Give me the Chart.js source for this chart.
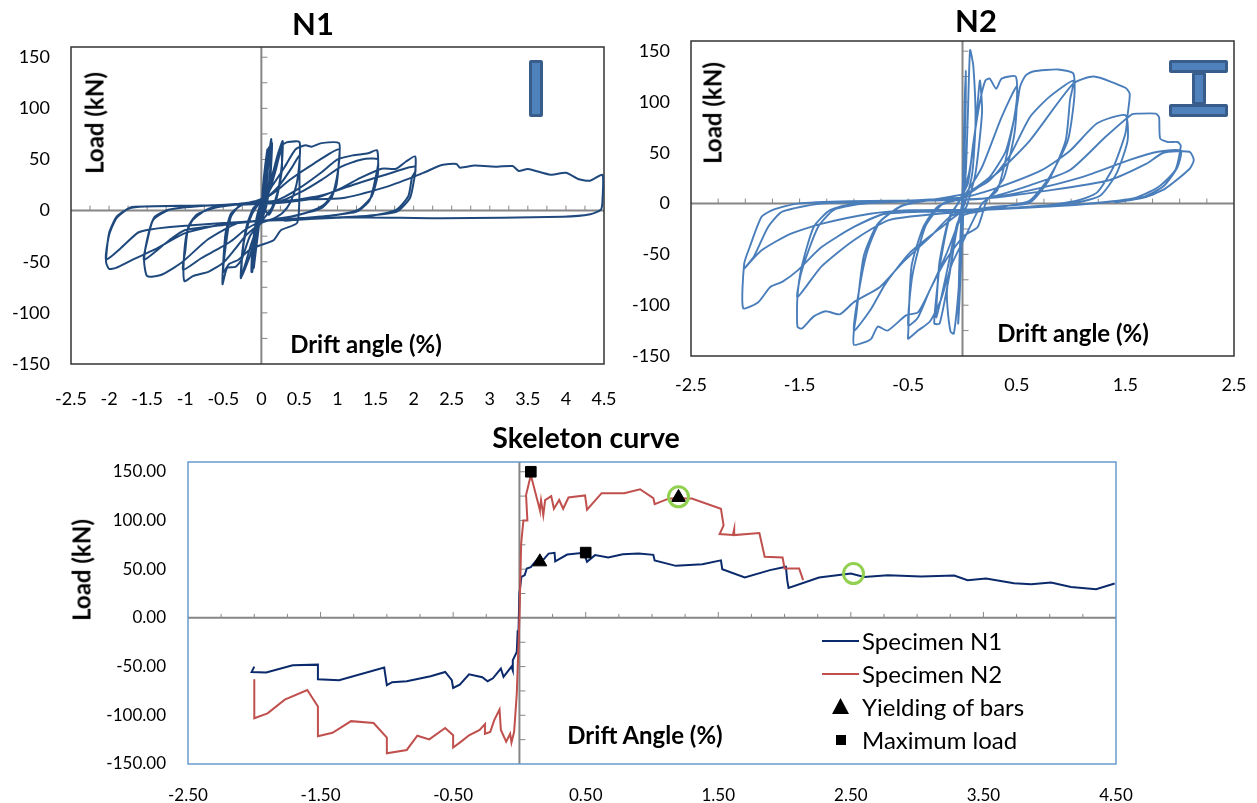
<!DOCTYPE html>
<html>
<head>
<meta charset="utf-8">
<title>Hysteresis and skeleton curves</title>
<script src="https://cdn.jsdelivr.net/npm/chart.js@4/dist/chart.umd.min.js"></script>
<style>
  html, body { margin: 0; background: #fff; }
  body { position: relative; width: 1257px; height: 803px; overflow: hidden; font-family: Lato, sans-serif; color: #000; }
  canvas { position: absolute; }
  .label { position: absolute; white-space: nowrap; transform: translate(-50%, -50%); font-weight: 700; }
  .title { font-size: 31px; }
  .inner { font-size: 24px; }
  .rot { transform: translate(-50%, -50%) rotate(-90deg); }
  .shape { position: absolute; box-sizing: border-box; background: #4f81bd; border: 3px solid #385d8a; border-radius: 2px; }
  .legend-text { position: absolute; left: 862px; font-size: 24px; line-height: 26px; white-space: nowrap; }
  .legend-line { position: absolute; left: 822px; width: 37px; height: 2px; }
</style>
</head>
<body>

<canvas id="chartN1" width="625" height="410" style="left:0;top:0"></canvas>
<canvas id="chartN2" width="627" height="410" style="left:630px;top:0"></canvas>
<canvas id="chartSkeleton" width="1257" height="393" style="left:0;top:410px"></canvas>

<div class="label title" style="left:313px;top:23px">N1</div>
<div class="label title" style="left:976px;top:20px">N2</div>
<div class="label title" style="left:586px;top:437px;font-size:28.5px">Skeleton curve</div>

<div class="label inner rot" style="left:94px;top:123px">Load (kN)</div>
<div class="label inner rot" style="left:712px;top:113px">Load (kN)</div>
<div class="label inner rot" style="left:81px;top:570px">Load (kN)</div>
<div class="label inner" style="left:366px;top:343px">Drift angle (%)</div>
<div class="label inner" style="left:1073px;top:332px">Drift angle (%)</div>
<div class="label inner" style="left:645px;top:734px">Drift Angle (%)</div>

<div class="shape" style="left:529px;top:60px;width:14px;height:57px"></div>
<div class="shape" style="left:1192px;top:72px;width:14px;height:33px"></div>
<div class="shape" style="left:1169px;top:60px;width:59px;height:13px"></div>
<div class="shape" style="left:1169px;top:104px;width:59px;height:13px"></div>

<div class="legend-line" style="top:640px;background:#0b2a6b"></div>
<div class="legend-line" style="top:673px;background:#c0504d"></div>
<svg style="position:absolute;left:832px;top:698px" width="17" height="17"><polygon points="8.5,0 17,16 0,16" fill="#000"/></svg>
<div style="position:absolute;left:836px;top:735px;width:10px;height:10px;background:#000"></div>
<div class="legend-text" style="top:628px">Specimen N1</div>
<div class="legend-text" style="top:661px">Specimen N2</div>
<div class="legend-text" style="top:694px">Yielding of bars</div>
<div class="legend-text" style="top:727px">Maximum load</div>

<script>
{
  'use strict';

  // tick values
  const loadTicks = [-150, -100, -50, 0, 50, 100, 150];
  const loadMinor = [-125, -100, -75, -50, -25, 25, 50, 75, 100, 125, 150];
  const n1DriftTicks = [-2.5, -2, -1.5, -1, -0.5, 0, 0.5, 1, 1.5, 2, 2.5, 3, 3.5, 4, 4.5];
  const n1DriftMinor = [-2.25, -2, -1.75, -1.5, -1.25, -1, -0.75, -0.5, -0.25, 0.25, 0.5, 0.75, 1, 1.25, 1.5, 1.75, 2, 2.25, 2.5, 2.75, 3, 3.25, 3.5, 3.75, 4, 4.25];
  const n2DriftTicks = [-2.5, -1.5, -0.5, 0.5, 1.5, 2.5];
  const n2DriftMinor = [-2.25, -2, -1.75, -1.5, -1.25, -1, -0.75, -0.5, -0.25, 0.25, 0.5, 0.75, 1, 1.25, 1.5, 1.75, 2, 2.25];
  const skeletonDriftTicks = [-2.5, -1.5, -0.5, 0.5, 1.5, 2.5, 3.5, 4.5];
  const skeletonDriftMinor = [-2.25, -2, -1.75, -1.5, -1.25, -1, -0.75, -0.5, -0.25, 0.25, 0.5, 0.75, 1, 1.25, 1.5, 1.75, 2, 2.25, 2.5, 2.75, 3, 3.25, 3.5, 3.75, 4, 4.25];

  // N1 hysteresis, [drift %, load kN]
  const n1Cycle010 = [[0,0],[.02,22],[.05,44],[.08,60],[.07,38],[.04,14],[.01,1],[-.02,-9],[-.05,-26],[-.08,-44],[-.1,-56],[-.09,-34],[-.05,-11],[-.01,3],[.03,20],[.07,44],[.1,62],[.08,34],[.04,8],[0,-4],[-.04,-18],[-.09,-42],[-.12,-60]];
  const n1Cycle015 = [[-.11,-36],[-.06,-8],[-.01,5],[.04,22],[.09,50],[.13,70],[.12,44],[.08,16],[.03,-2],[-.03,-14],[-.08,-32],[-.13,-60],[-.12,-38],[-.07,-10],[-.02,5],[.04,18],[.09,42],[.14,66],[.12,34],[.07,6],[.01,-8]];
  const n1Cycle025 = [[-.06,-20],[-.14,-42],[-.21,-56],[-.26,-64],[-.25,-42],[-.2,-20],[-.12,-3],[-.03,7],[.06,15],[.14,34],[.22,56],[.28,68],[.27,46],[.22,20],[.14,3],[.05,-6],[-.04,-15],[-.13,-32],[-.21,-52],[-.27,-66],[-.25,-40],[-.19,-14],[-.1,3],[0,8],[.1,18],[.19,40],[.26,60],[.27,40],[.2,12],[.1,-4]];
  const n1Cycle050 = [[0,9],[.08,20],[.18,42],[.27,64],[.35,67],[.5,67],[.5,48],[.46,25],[.38,8],[.28,-2],[.15,-8],[0,-12],[-.15,-25],[-.26,-48],[-.34,-55],[-.45,-56],[-.51,-72],[-.5,-50],[-.47,-22],[-.4,-3],[-.26,5.5],[-.05,10],[.1,15],[.25,26],[.4,42],[.5,54],[.5,40],[.5,15],[.47,-12],[.26,-19],[.16,-29],[0,-33.5],[-.15,-38],[-.3,-48],[-.42,-52],[-.5,-60]];
  const n1Cycle100 = [[-.46,-30],[-.4,-6],[-.28,5],[0,9],[.15,25],[.3,42],[.45,60],[.58,64],[.66,62.5],[.79,66],[1.02,66],[1.02,50],[.98,23],[.84,7],[.69,.6],[.45,-5],[.2,-8],[0,-12],[-.2,-24],[-.35,-38],[-.5,-51],[-.69,-59.6],[-.9,-64],[-1.01,-69],[-1.02,-50],[-.98,-22],[-.9,-9],[-.69,2],[-.32,6.5],[0,10],[.21,20],[.37,30],[.69,46],[1.02,60],[1,36],[.93,14],[.8,3],[.6,-2],[.3,-7],[0,-11],[-.2,-18],[-.4,-30],[-.58,-38],[-.79,-46.6],[-1.03,-58]];
  const n1Cycle150 = [[-1,-40],[-.96,-16],[-.85,-4],[-.6,3],[-.2,7],[.2,10],[.5,22],[.8,38],[1,50],[1.2,54],[1.4,56],[1.52,59],[1.53,36],[1.45,14],[1.27,.6],[1,-4],[.6,-7],[.2,-9],[-.3,-12],[-.7,-28],[-1.05,-51],[-1.32,-63],[-1.5,-64],[-1.54,-48],[-1.48,-22],[-1.4,-6],[-1.21,1],[-.79,4.5],[-.3,6],[.2,8],[.53,18.5],[.79,30],[1.05,43],[1.32,50],[1.53,50],[1.5,32],[1.42,10],[1.25,-1],[.9,-5],[.4,-8],[0,-10],[-.5,-14],[-1,-19],[-1.21,-29],[-1.54,-48]];
  const n1Cycle200 = [[-1.5,-30],[-1.42,-9],[-1.2,1],[-.7,5],[-.2,6],[.3,8],[.7,12],[1.05,22],[1.3,32],[1.58,41],[1.77,41],[1.9,48],[2.02,53],[2.02,38],[1.98,33],[1.93,14],[1.77,.6],[1.45,-5],[1,-7],[.4,-9],[-.4,-12],[-1,-22],[-1.4,-38],[-1.69,-48],[-1.91,-56],[-2,-57],[-2.04,-50],[-2,-22],[-1.9,-6],[-1.74,2],[-1.53,4],[-.8,5],[0,7],[.4,10],[.8,15],[1.2,25],[1.63,35],[2.02,43],[2,28],[1.95,12],[1.78,-1],[1.4,-5],[.9,-7],[.3,-9],[-.5,-12],[-1.2,-16],[-1.5,-19],[-1.63,-22],[-1.85,-37],[-2.04,-48]];
  const n1Cycle450 = [[-2,-24],[-1.9,-7],[-1.72,3],[-1.5,4],[-.7,5],[0,8],[.6,11],[1.05,12],[1.63,23],[2,33],[2.16,38],[2.37,44.6],[2.56,45.6],[2.61,42],[2.8,44],[3.1,43],[3.3,43.6],[3.38,38.8],[3.5,40.7],[3.8,35],[4,37],[4.17,30.6],[4.32,29.3],[4.48,35],[4.48,10],[4.46,1],[4.32,-3.6],[3.96,-6],[2.37,-7.5],[1.05,-6.5],[.3,-10]];

  // N2 hysteresis, [drift %, load kN]
  const n2Cycle010 = [[0,0],[.01,50],[.02,100],[.03,131],[.03,100],[.02,50],[.01,8],[0,-10],[-.01,-50],[-.03,-100],[-.04,-118],[-.03,-62],[-.01,-10],[.01,30],[.02,90],[.03,125],[.02,60],[.01,4],[0,-30],[-.04,-90],[-.08,-128],[-.11,-126],[-.14,-100],[-.14,-82],[-.06,-30],[0,2]];
  const n2Cycle025 = [[.03,30],[.05,90],[.07,151],[.1,135],[.12,80],[.09,30],[.03,3],[-.04,-18],[-.12,-70],[-.21,-118],[-.26,-118],[-.23,-80],[-.21,-56],[-.12,-13],[-.02,4],[.06,30],[.12,75],[.16,121],[.18,90],[.12,30],[.04,-2],[-.05,-20],[-.14,-65],[-.24,-112],[-.22,-70],[-.13,-18],[-.03,3]];
  const n2Cycle050 = [[.05,20],[.1,60],[.16,100],[.21,121],[.25,123],[.31,113],[.36,123],[.49,125],[.5,102],[.43,59],[.32,13],[.18,0],[.01,-36],[-.1,-60],[-.2,-95],[-.3,-116],[-.41,-125],[-.5,-133],[-.5,-128],[-.47,-62],[-.36,-23],[-.23,-3],[-.05,4],[.03,10],[.18,36],[.36,85],[.5,115],[.48,70],[.38,25],[.22,2],[.14,-23],[.01,-32],[-.15,-55],[-.3,-85],[-.41,-112],[-.5,-120],[-.46,-70],[-.34,-22],[-.18,0]];
  const n2Cycle100 = [[0,6],[.1,14],[.25,26],[.4,52],[.5,95],[.53,115],[.58,126],[.65,130],[.88,132],[1.02,128],[1.03,105],[.97,62],[.8,26],[.62,3],[.43,-2],[.14,-8],[0,-12],[-.15,-50],[-.3,-85],[-.41,-107],[-.52,-110],[-.69,-125],[-.78,-121],[-.84,-133],[-.89,-136],[-1,-139],[-1,-125],[-.98,-111],[-.91,-52],[-.78,-20],[-.56,-2],[-.26,4],[.03,10],[.25,23],[.43,46],[.62,85],[.8,105],[1.02,121],[.99,102],[.95,62],[.8,24],[.62,1],[.3,-3],[0,-8],[-.19,-23],[-.49,-49],[-.71,-79],[-.85,-105],[-1,-125],[-.96,-90],[-.88,-48],[-.76,-18],[-.55,-2],[-.2,5]];
  const n2Cycle150 = [[0,6],[.32,30],[.62,62],[1.02,118],[1.21,125],[1.5,114],[1.54,108],[1.52,87],[1.5,69],[1.39,36],[1.24,11],[1.06,3],[.69,-3],[.2,-6],[-.1,-12],[-.3,-33],[-.56,-59],[-.76,-82],[-1,-97],[-1.13,-109],[-1.26,-106],[-1.37,-111],[-1.48,-123],[-1.52,-121],[-1.52,-92],[-1.48,-62],[-1.37,-23],[-1.22,-6.5],[-1,0],[-.49,3],[0,6],[.25,13],[.73,33],[.99,52],[1.24,79],[1.5,87],[1.52,62],[1.42,30],[1.27,8],[1.05,1],[.6,-3],[0,-8],[-.67,-16],[-1,-36],[-1.3,-62],[-1.52,-92]];
  const n2Cycle200 = [[-1.48,-66],[-1.33,-23],[-1.18,-6],[-.9,0],[-.3,3],[.2,5],[.62,18],[.99,33],[1.32,66],[1.56,88],[1.61,88.5],[1.78,88.5],[1.81,85],[1.82,64],[1.89,60.6],[1.98,60.6],[2.01,57],[1.96,33],[1.8,16],[1.57,5],[1.17,0],[.62,-4],[0,-7],[-.71,-10],[-1,-23],[-1.3,-43],[-1.52,-66],[-1.66,-77],[-1.77,-82],[-1.88,-97],[-2.02,-103],[-2.01,-59],[-1.96,-43],[-1.85,-13],[-1.74,-6],[-1.52,0],[-1.04,2.3],[-.3,3.3],[.2,5],[.62,13],[1.1,26],[1.54,43],[1.8,51],[2.01,52],[1.98,36],[1.85,17],[1.65,6],[1.3,1],[.8,-3],[0,-6],[-.49,-6.5],[-.85,-10],[-1.3,-20],[-1.59,-30],[-1.85,-46],[-2.01,-64],[-1.92,-52],[-1.79,-23],[-1.66,-8],[-1.3,0],[-.6,2.5],[.2,5],[.8,13],[1.35,23],[1.69,39],[1.85,50],[2.09,51],[2.13,43],[2.09,34],[1.87,15],[1.69,6.5],[1.4,1]];

  // skeleton curves, drift % and load kN
  const n1SkeletonDrift = [-2,-2.02,-1.91,-1.71,-1.52,-1.52,-1.36,-1.02,-1,-.96,-.85,-.67,-.56,-.51,-.5,-.45,-.38,-.28,-.24,-.2,-.14,-.12,-.06,-.05,-.05,-.02,-.013,-.01,0,.015,.04,.055,.086,.15,.17,.22,.265,.27,.36,.486,.51,.57,.67,.78,.9,1.01,1.02,1.18,1.38,1.52,1.53,1.7,1.89,2.01,2.02,2.03,2.26,2.5,2.6,2.78,3.03,3.28,3.38,3.52,3.73,3.86,4.01,4.16,4.35,4.49];
  const n1SkeletonLoad = [-50,-55.5,-56,-48.6,-48,-63,-64,-51,-69,-66,-65,-60,-55.5,-64,-72,-68.5,-58,-61,-65,-62,-52,-60.6,-50,-54,-43.5,-35,-12.7,-30,25,42,44,50.7,52,62.7,58,66,66.8,58,65,66.8,57.5,64.4,62,65.4,66,64.7,59,53.4,55,59,50,41.4,49,52.4,38.7,30.8,41.4,45.5,42,43.8,42.5,43.5,38.7,40.4,35.6,34.6,36.3,31.8,29.5,35.3];
  const n2SkeletonDrift = [-2,-2,-1.9,-1.77,-1.6,-1.52,-1.52,-1.41,-1.27,-1.1,-1,-1,-.85,-.77,-.68,-.56,-.5,-.5,-.44,-.38,-.3,-.26,-.26,-.22,-.19,-.15,-.14,-.1,-.07,-.06,-.04,-.02,0,.013,.03,.06,.05,.086,.148,.154,.163,.18,.194,.24,.26,.3,.33,.37,.495,.51,.62,.79,.91,1.01,1.02,1.13,1.3,1.52,1.54,1.51,1.61,1.62,1.62,1.81,1.85,1.985,2,2.11,2.14];
  const n2SkeletonLoad = [-63,-103,-98,-84,-74,-91,-121.6,-118,-106,-108,-123,-139,-135.6,-121,-124.7,-113,-120.5,-133,-127,-120.5,-115,-109,-119,-117,-105,-94,-115,-127,-119,-128,-117,-78,0,76,100,100,126,146.6,114,110.6,120.8,105.5,120.8,125,112,121,112,123.6,125.7,111,128,128,132,123,116.8,122.6,122.6,112,95,86,85,91,85,87,62.7,62,50.7,50.7,38.7];

  const yieldDrift = [0.154, 1.2];
  const yieldLoad = [57.5, 123.6];
  const maxDrift = [0.086, 0.5];
  const maxLoad = [150, 67];
  const circledDrift = [1.2, 2.52];
  const circledLoad = [124.3, 45.5];

  const n1Trace = [n1Cycle010, n1Cycle015, n1Cycle025, n1Cycle050, n1Cycle100, n1Cycle150, n1Cycle200, n1Cycle450].flat();
  const n2Trace = [n2Cycle010, n2Cycle025, n2Cycle050, n2Cycle100, n2Cycle150, n2Cycle200].flat();

  const pairsToPoints = pairs => pairs.map(([x, y]) => ({ x, y }));
  const zipPoints = (xs, ys) => xs.map((x, i) => ({ x, y: ys[i] }));

  Chart.defaults.font.family = 'Lato, sans-serif';
  Chart.defaults.color = '#000';
  Chart.defaults.animation = false;

  // box round the plot and the grey axes through zero, ticks inside
  const frameAxes = function(cfg){
    return {
      id: 'frameAxes',
      beforeDatasetsDraw(chart){
        const { ctx, chartArea: a, scales: { x, y } } = chart;
        const x0 = x.getPixelForValue(0);
        const y0 = y.getPixelForValue(0);

        ctx.save();
        ctx.strokeStyle = cfg.axisColor;
        ctx.lineWidth = 1;
        for(let v of cfg.xMinor){
          const px = x.getPixelForValue(v);
          const len = (cfg.xLong || []).includes(v) ? 6 : cfg.xTickLen;
          ctx.beginPath();
          ctx.moveTo(px, y0);
          ctx.lineTo(px, y0 - len);
          ctx.stroke();
        }
        for(let v of cfg.yMinor){
          const py = y.getPixelForValue(v);
          ctx.beginPath();
          ctx.moveTo(x0, py);
          ctx.lineTo(x0 + 6, py);
          ctx.stroke();
        }
        ctx.lineWidth = 2;
        ctx.beginPath();
        ctx.moveTo(a.left, y0);
        ctx.lineTo(a.right, y0);
        ctx.moveTo(x0, a.top);
        ctx.lineTo(x0, a.bottom);
        ctx.stroke();

        ctx.strokeStyle = cfg.boxColor;
        ctx.lineWidth = cfg.boxWidth;
        ctx.strokeRect(a.left, a.top, a.right - a.left, a.bottom - a.top);
        ctx.restore();
      }
    };
  };

  const makeOptions = function(cfg){
    return {
      responsive: false,
      animation: false,
      layout: { autoPadding: false, padding: cfg.padding },
      plugins: { legend: { display: false }, tooltip: { enabled: false } },
      scales: {
        x: {
          type: 'linear',
          min: cfg.xMin,
          max: cfg.xMax,
          grid: { display: false },
          border: { display: false },
          afterBuildTicks: scale => { scale.ticks = cfg.xTicks.map(value => ({ value })); },
          afterFit: scale => {
            // the last label would otherwise push the plot area in
            scale.height = cfg.bottom;
            scale.paddingLeft = 0;
            scale.paddingRight = 0;
          },
          ticks: { font: { size: cfg.fontSize }, padding: cfg.xPad, maxRotation: 0, autoSkip: false, callback: cfg.format }
        },
        y: {
          type: 'linear',
          min: -150,
          max: 160,
          grid: { display: false },
          border: { display: false },
          afterBuildTicks: scale => { scale.ticks = loadTicks.map(value => ({ value })); },
          afterFit: scale => { scale.width = cfg.left; },
          ticks: { font: { size: cfg.fontSize }, padding: cfg.yPad, autoSkip: false, callback: cfg.format }
        }
      }
    };
  };

  const initHysteresis = function(canvasId, label, trace, color, width, cfg, frame){
    const ctx = document.getElementById(canvasId).getContext('2d');
    // eslint-disable-next-line no-undef, no-unused-vars
    const chart = new Chart(ctx, {
      type: 'scatter',
      data: {
        datasets: [{
          label: label,
          data: pairsToPoints(trace),
          showLine: true,
          borderColor: color,
          borderWidth: width,
          tension: 0.2,
          pointRadius: 0
        }]
      },
      options: makeOptions(cfg),
      plugins: [frameAxes(frame)]
    });
  };

  initHysteresis('chartN1', 'N1', n1Trace, '#1f497d', 2, {
    padding: { top: 47, right: 21 },
    left: 71, bottom: 46, xMin: -2.5, xMax: 4.5, xTicks: n1DriftTicks,
    fontSize: 18, xPad: 16, yPad: 13, format: v => String(v)
  }, {
    axisColor: '#868686', boxColor: '#333', boxWidth: 1.5, xTickLen: 5, xMinor: n1DriftMinor, yMinor: loadMinor
  });

  initHysteresis('chartN2', 'N2', n2Trace, '#4a7ebb', 1.9, {
    padding: { top: 41, right: 23 },
    left: 61, bottom: 54, xMin: -2.5, xMax: 2.5, xTicks: n2DriftTicks,
    fontSize: 18, xPad: 10, yPad: 13, format: v => String(v)
  }, {
    axisColor: '#868686', boxColor: '#333', boxWidth: 1.5, xTickLen: 5, xMinor: n2DriftMinor, yMinor: loadMinor
  });

  const initSkeleton = function(){
    const ctx = document.getElementById('chartSkeleton').getContext('2d');
    const cfg = {
      padding: { top: 52, right: 141 },
      left: 188, bottom: 39, xMin: -2.5, xMax: 4.5, xTicks: skeletonDriftTicks,
      fontSize: 17, xPad: 13, yPad: 14, format: v => v.toFixed(2)
    };
    // eslint-disable-next-line no-undef, no-unused-vars
    const chart = new Chart(ctx, {
      type: 'scatter',
      data: {
        datasets: [
          {
            label: 'Specimen N1',
            data: zipPoints(n1SkeletonDrift, n1SkeletonLoad),
            showLine: true,
            borderColor: '#0b2a6b',
            borderWidth: 2,
            pointRadius: 0,
            order: 3
          },
          {
            label: 'Specimen N2',
            data: zipPoints(n2SkeletonDrift, n2SkeletonLoad),
            showLine: true,
            borderColor: '#c0504d',
            borderWidth: 2,
            pointRadius: 0,
            order: 2
          },
          {
            label: 'Yielding of bars',
            data: zipPoints(yieldDrift, yieldLoad),
            pointStyle: 'triangle',
            pointRadius: 8,
            backgroundColor: '#000',
            borderColor: '#000',
            order: 1
          },
          {
            label: 'Maximum load',
            data: zipPoints(maxDrift, maxLoad),
            pointStyle: 'rect',
            pointRadius: 7.5,
            backgroundColor: '#000',
            borderColor: '#000',
            order: 1
          },
          {
            label: 'Failure',
            data: zipPoints(circledDrift, circledLoad),
            pointStyle: 'circle',
            pointRadius: 10,
            borderWidth: 3,
            backgroundColor: 'rgba(0,0,0,0)',
            borderColor: '#92d050',
            order: 0
          }
        ]
      },
      options: makeOptions(cfg),
      plugins: [frameAxes({
        axisColor: '#868686', boxColor: '#6a9bd0', boxWidth: 1.5, xTickLen: 4,
        xMinor: skeletonDriftMinor, yMinor: loadMinor, xLong: [-1.5, -0.5, 0.5, 1.5, 2.5, 3.5]
      })]
    });
  };

  initSkeleton();
}
</script>
</body>
</html>
